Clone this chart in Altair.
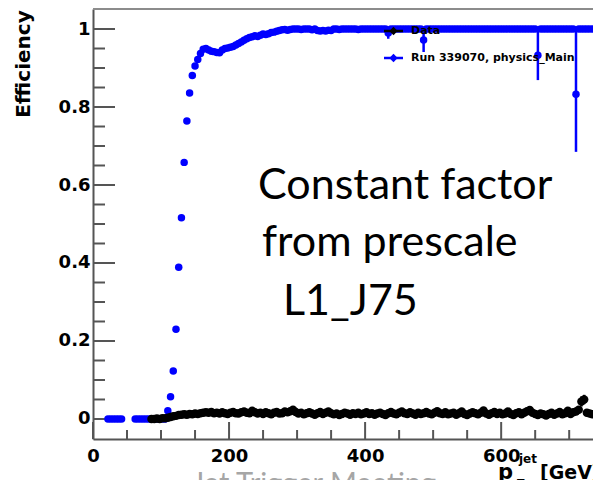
import altair as alt
import pandas as pd

# plot area (pixels) and axis ranges
W, H = 500, 430
X_DOM = [0, 735]
Y_DOM = [-0.0513, 1.0513]

# histogram binning (GeV)
BIN_W = 4

# Run 339070, physics_Main: efficiency per bin, first bin centre 22 GeV (None = empty bin)
BLUE_FIRST = 22
blue_eff = [
    0.000, 0.000, 0.000, 0.000, 0.000, 0.000, None, None, None, None,
    0.000, 0.000, 0.000, 0.000, 0.000, 0.000, 0.000, 0.000, 0.000, 0.000,
    0.000, 0.000, 0.021, 0.057, 0.123, 0.230, 0.389, 0.516, 0.658, 0.764,
    0.836, 0.881, 0.905, 0.922, 0.937, 0.948, 0.950, 0.946, 0.943, 0.942,
    0.940, 0.939, 0.946, 0.950, 0.951, 0.953, 0.955, 0.959, 0.963, 0.967,
    0.971, 0.975, 0.978, 0.980, 0.983, 0.981, 0.984, 0.987, 0.986, 0.988,
    0.991, 0.992, 0.994, 0.996, 0.998, 0.999, 0.997, 0.999, 1.000, 1.000,
    1.000, 0.999, 1.000, 1.000, 1.000, 0.998, 1.000, 0.996, 0.995, 0.996,
    0.995, 0.997, 0.996, 1.000, 1.000, 0.999, 1.000, 1.000, 1.000, 1.000,
    1.000, 1.000, 0.999, 1.000, 1.000, 1.000, 1.000, 1.000, 1.000, 1.000,
    1.000, 1.000, 1.000, 0.990, 1.000, 1.000, 1.000, 1.000, 1.000, 1.000,
    1.000, 1.000, 1.000, 1.000, 1.000, 1.000, 0.972, 1.000, 1.000, 1.000,
    1.000, 1.000, 1.000, 1.000, 1.000, 1.000, 1.000, 1.000, 1.000, 1.000,
    1.000, 1.000, 1.000, 1.000, 1.000, 1.000, 1.000, 1.000, 1.000, 1.000,
    1.000, 1.000, 1.000, 1.000, 1.000, 1.000, 1.000, 1.000, 1.000, 1.000,
    1.000, 1.000, 1.000, 1.000, 1.000, 1.000, 1.000, 1.000, 0.933, 1.000,
    1.000, 1.000, 1.000, 1.000, 1.000, 1.000, 1.000, 1.000, 1.000, 1.000,
    1.000, 1.000, 0.833, 1.000, 1.000, 1.000, 1.000, 1.000, 1.000,
]

# asymmetric error bars on the low-statistics bins
blue_err_pt = [434, 486, 654, 710]
blue_err_lo = [0.975, 0.941, 0.869, 0.685]
blue_err_hi = [1.000, 1.000, 1.000, 1.000]

# Data: efficiency per bin, first bin centre 86 GeV
BLACK_FIRST = 86
black_eff = [
    0.000, 0.000, 0.001, 0.000, 0.002, 0.002, 0.003, 0.005, 0.007, 0.008,
    0.010, 0.011, 0.012, 0.011, 0.013, 0.012, 0.014, 0.013, 0.015, 0.016,
    0.017, 0.016, 0.018, 0.015, 0.016, 0.014, 0.017, 0.015, 0.013, 0.016,
    0.018, 0.015, 0.014, 0.017, 0.019, 0.016, 0.015, 0.021, 0.017, 0.014,
    0.016, 0.013, 0.017, 0.015, 0.012, 0.016, 0.018, 0.014, 0.015, 0.019,
    0.017, 0.020, 0.024, 0.018, 0.014, 0.016, 0.012, 0.015, 0.017, 0.014,
    0.011, 0.015, 0.018, 0.013, 0.016, 0.019, 0.015, 0.012, 0.014, 0.010,
    0.013, 0.016, 0.014, 0.011, 0.015, 0.013, 0.016, 0.012, 0.014, 0.017,
    0.013, 0.015, 0.011, 0.014, 0.016, 0.013, 0.010, 0.015, 0.018, 0.014,
    0.012, 0.016, 0.019, 0.015, 0.013, 0.017, 0.014, 0.011, 0.016, 0.013,
    0.015, 0.018, 0.014, 0.012, 0.016, 0.020, 0.015, 0.013, 0.017, 0.012,
    0.014, 0.016, 0.011, 0.015, 0.019, 0.013, 0.010, 0.014, 0.017, 0.015,
    0.012, 0.016, 0.022, 0.014, 0.011, 0.015, 0.018, 0.013, 0.016, 0.012,
    0.014, 0.019, 0.013, 0.010, 0.015, 0.017, 0.012, 0.016, 0.020, 0.023,
    0.016, 0.013, 0.010, 0.014, 0.012, 0.009, 0.013, 0.016, 0.011, 0.014,
    0.018, 0.012, 0.015, 0.021, 0.013, 0.017, 0.019, 0.024, 0.045, 0.050,
    0.016, 0.014, 0.012,
]
black_err_pt = [718, 722]
black_err_lo = [0.032, 0.038]
black_err_hi = [0.058, 0.062]

# axis ticks
x_major = [0, 200, 400, 600]
x_minor = [50, 100, 150, 250, 300, 350, 450, 500, 550, 650, 700]
y_major = [0, 0.2, 0.4, 0.6, 0.8, 1.0]
y_minor = [0.05, 0.1, 0.15, 0.25, 0.3, 0.35, 0.45, 0.5, 0.55,
           0.65, 0.7, 0.75, 0.85, 0.9, 0.95]

ROOT_FONT = "DejaVu Sans"
AXIS_COL = "#555555"
BLUE = "#0000ff"
BLUE_MARKER = 56
BLACK_MARKER = 72

blue_df = pd.DataFrame({
    "pt": [BLUE_FIRST + BIN_W * i for i in range(len(blue_eff))],
    "eff": blue_eff,
}).dropna()
black_df = pd.DataFrame({
    "pt": [BLACK_FIRST + BIN_W * i for i in range(len(black_eff))],
    "eff": black_eff,
})
blue_err_df = pd.DataFrame({"pt": blue_err_pt, "lo": blue_err_lo, "hi": blue_err_hi})
black_err_df = pd.DataFrame({"pt": black_err_pt, "lo": black_err_lo, "hi": black_err_hi})

x_axis = alt.Axis(values=x_major, format="d", ticks=False, grid=False, title=None,
                  labelFont=ROOT_FONT, labelFontWeight="bold", labelFontSize=18,
                  labelColor="black", labelPadding=8, labelFlush=False,
                  labelOverlap=False, labelBound=False,
                  domainColor=AXIS_COL, domainWidth=2)
y_axis = alt.Axis(values=y_major, format="~g", ticks=False, grid=False, title=None,
                  labelFont=ROOT_FONT, labelFontWeight="bold", labelFontSize=18,
                  labelColor="black", labelPadding=3, labelFlush=False,
                  labelOverlap=False, labelBound=False,
                  domainColor=AXIS_COL, domainWidth=2)
x_scale = alt.Scale(domain=X_DOM, nice=False, zero=False)
y_scale = alt.Scale(domain=Y_DOM, nice=False, zero=False)


def xq(field):
    return alt.X(f"{field}:Q", scale=x_scale, axis=x_axis, title=None)


def yq(field):
    return alt.Y(f"{field}:Q", scale=y_scale, axis=y_axis, title=None)


def label(text, x, y, **kw):
    return alt.Chart(pd.DataFrame({"t": [text]})).mark_text(**kw).encode(
        x=alt.value(x), y=alt.value(y), text="t:N")


# inward-pointing ROOT style ticks
def x_ticks(vals, length):
    return alt.Chart(pd.DataFrame({"v": vals})).mark_rule(
        color=AXIS_COL, strokeWidth=2).encode(
        x=xq("v"), y=alt.value(H), y2=alt.value(H - length))


def y_ticks(vals, length):
    return alt.Chart(pd.DataFrame({"v": vals})).mark_rule(
        color=AXIS_COL, strokeWidth=2).encode(
        y=yq("v"), x=alt.value(0), x2=alt.value(length))


top_frame = alt.Chart(pd.DataFrame({"v": [0]})).mark_rule(
    color="#8c8c8c", strokeWidth=2).encode(
    x=alt.value(0), x2=alt.value(W), y=alt.value(0))

blue_pts = alt.Chart(blue_df).mark_circle(size=BLUE_MARKER, color=BLUE, opacity=1).encode(
    x=xq("pt"), y=yq("eff"))
blue_bars = alt.Chart(blue_err_df).mark_rule(color=BLUE, strokeWidth=2.5).encode(
    x=xq("pt"), y=yq("lo"), y2="hi:Q")
black_pts = alt.Chart(black_df).mark_circle(size=BLACK_MARKER, color="black", opacity=1).encode(
    x=xq("pt"), y=yq("eff"))
black_bars = alt.Chart(black_err_df).mark_rule(color="black", strokeWidth=2.5).encode(
    x=xq("pt"), y=yq("lo"), y2="hi:Q")

# legend box entries
leg_items = []
for (ly, col, txt) in [(22, "black", "Data"), (49, BLUE, "Run 339070, physics_Main")]:
    leg_items.append(alt.Chart(pd.DataFrame({"v": [0]})).mark_rule(
        color=col, strokeWidth=2.5).encode(
        x=alt.value(291), x2=alt.value(310), y=alt.value(ly)))
    leg_items.append(alt.Chart(pd.DataFrame({"v": [0]})).mark_point(
        shape="diamond", filled=True, size=70, color=col, opacity=1).encode(
        x=alt.value(300.5), y=alt.value(ly)))
    leg_items.append(label(txt, 318, ly, font=ROOT_FONT, fontWeight="bold",
                           fontSize=11, align="left", baseline="middle",
                           color="black"))

texts = [
    label("Efficiency", -69, 55, font=ROOT_FONT, fontWeight="bold", fontSize=20,
          angle=270, align="center", baseline="middle", color="black"),
    label("p", 405, 470, font=ROOT_FONT, fontWeight="bold", fontSize=21,
          align="left", baseline="alphabetic", color="black"),
    label("T", 424, 478, font=ROOT_FONT, fontWeight="bold", fontSize=11,
          align="left", baseline="alphabetic", color="black"),
    label("jet", 426, 454, font=ROOT_FONT, fontWeight="bold", fontSize=12,
          align="left", baseline="alphabetic", color="black"),
    label("[GeV]", 447, 470, font=ROOT_FONT, fontWeight="bold", fontSize=19,
          align="left", baseline="alphabetic", color="black"),
    label("Constant factor", 165, 190, font="Lato", fontSize=43,
          align="left", baseline="alphabetic", color="black"),
    label("from prescale", 169, 247, font="Lato", fontSize=43,
          align="left", baseline="alphabetic", color="black"),
    label("L1_J75", 190, 306, font="Lato", fontSize=43,
          align="left", baseline="alphabetic", color="black"),
    label("Jet Trigger Meeting", 221, 484, font="Lato", fontSize=29,
          align="center", baseline="alphabetic", color="#a6a6a6"),
]

chart = alt.layer(
    top_frame,
    x_ticks(x_major, 17), x_ticks(x_minor, 9),
    y_ticks(y_major, 22), y_ticks(y_minor, 12),
    blue_pts, blue_bars, black_pts, black_bars,
    *leg_items, *texts,
).properties(
    width=W, height=H,
    padding={"left": 93, "top": 9, "right": 0, "bottom": 41},
    autosize=alt.AutoSizeParams(type="none"),
    background="white",
).configure_view(stroke=None)

chart.save("out.html", embed_options={"renderer": "svg", "actions": False})
